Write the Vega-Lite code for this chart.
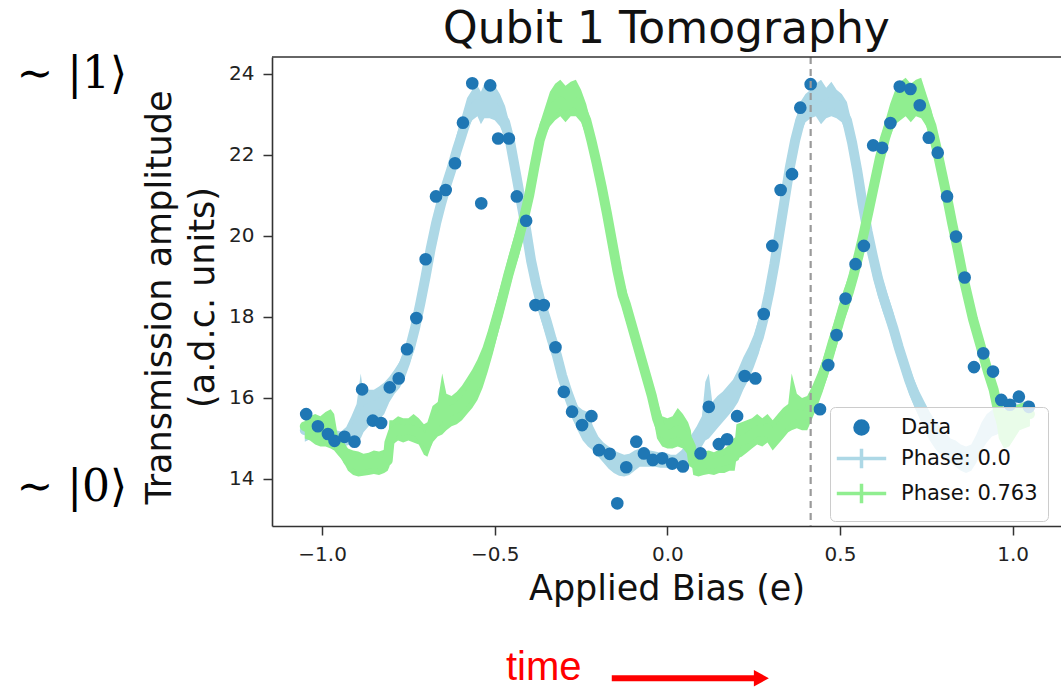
{
  "$schema": "https://vega.github.io/schema/vega-lite/v6.json",
  "autosize": "none",
  "width": 789,
  "height": 469,
  "padding": {"left": 272, "top": 57, "right": 0, "bottom": 164},
  "background": "white",
  "title": {"text": "Qubit 1 Tomography", "fontSize": 44, "font": "DejaVu Sans", "fontWeight": "normal", "color": "#111111", "anchor": "middle", "frame": "group", "baseline": "alphabetic", "offset": 12, "dy": 46},
  "config": {"view": {"stroke": null}, "font": "DejaVu Sans"},
  "datasets": {
    "blue": [
      {"x": -1.05, "lo": 14.92, "mid": 15.2, "hi": 15.52},
      {"x": -1.035, "lo": 14.98, "mid": 15.2, "hi": 15.45},
      {"x": -1.02, "lo": 14.95, "mid": 15.15, "hi": 15.4},
      {"x": -1.005, "lo": 14.93, "mid": 15.1, "hi": 15.33},
      {"x": -0.99, "lo": 14.9, "mid": 15.08, "hi": 15.3},
      {"x": -0.975, "lo": 14.86, "mid": 15.02, "hi": 15.22},
      {"x": -0.96, "lo": 14.85, "mid": 15.0, "hi": 15.2},
      {"x": -0.945, "lo": 14.8, "mid": 14.98, "hi": 15.17},
      {"x": -0.93, "lo": 14.82, "mid": 15.0, "hi": 15.28},
      {"x": -0.915, "lo": 14.86, "mid": 15.1, "hi": 15.55},
      {"x": -0.9, "lo": 14.95, "mid": 15.3, "hi": 15.85},
      {"x": -0.888, "lo": 15.0, "mid": 15.5, "hi": 16.6},
      {"x": -0.88, "lo": 15.15, "mid": 15.6, "hi": 16.1},
      {"x": -0.865, "lo": 15.3, "mid": 15.75, "hi": 16.2},
      {"x": -0.85, "lo": 15.4, "mid": 15.8, "hi": 16.2},
      {"x": -0.835, "lo": 15.45, "mid": 15.85, "hi": 16.28},
      {"x": -0.82, "lo": 15.6, "mid": 15.95, "hi": 16.38},
      {"x": -0.805, "lo": 15.9, "mid": 16.2, "hi": 16.52},
      {"x": -0.79, "lo": 16.1, "mid": 16.4, "hi": 16.7},
      {"x": -0.775, "lo": 16.25, "mid": 16.6, "hi": 16.9},
      {"x": -0.76, "lo": 16.5, "mid": 16.9, "hi": 17.2},
      {"x": -0.745, "lo": 16.85, "mid": 17.25, "hi": 17.6},
      {"x": -0.73, "lo": 17.3, "mid": 17.75, "hi": 18.2},
      {"x": -0.715, "lo": 17.9, "mid": 18.35, "hi": 18.8},
      {"x": -0.7, "lo": 18.6, "mid": 19.0, "hi": 19.5},
      {"x": -0.685, "lo": 19.3, "mid": 19.7, "hi": 20.1},
      {"x": -0.67, "lo": 19.9, "mid": 20.3, "hi": 20.7},
      {"x": -0.655, "lo": 20.4, "mid": 20.8, "hi": 21.2},
      {"x": -0.64, "lo": 20.9, "mid": 21.25, "hi": 21.6},
      {"x": -0.625, "lo": 21.3, "mid": 21.65, "hi": 22.0},
      {"x": -0.61, "lo": 21.75, "mid": 22.1, "hi": 22.5},
      {"x": -0.595, "lo": 22.2, "mid": 22.5, "hi": 22.95},
      {"x": -0.58, "lo": 22.6, "mid": 22.9, "hi": 23.4},
      {"x": -0.565, "lo": 22.85, "mid": 23.1, "hi": 23.6},
      {"x": -0.55, "lo": 22.95, "mid": 23.25, "hi": 23.7},
      {"x": -0.54, "lo": 22.75, "mid": 23.1, "hi": 23.55},
      {"x": -0.53, "lo": 22.9, "mid": 23.2, "hi": 23.75},
      {"x": -0.515, "lo": 22.9, "mid": 23.2, "hi": 23.6},
      {"x": -0.5, "lo": 22.85, "mid": 23.15, "hi": 23.7},
      {"x": -0.485, "lo": 22.7, "mid": 23.0, "hi": 23.5},
      {"x": -0.47, "lo": 22.4, "mid": 22.8, "hi": 23.2},
      {"x": -0.455, "lo": 21.9, "mid": 22.3, "hi": 22.7},
      {"x": -0.44, "lo": 21.2, "mid": 21.6, "hi": 22.0},
      {"x": -0.425, "lo": 20.5, "mid": 20.9, "hi": 21.3},
      {"x": -0.41, "lo": 19.8, "mid": 20.2, "hi": 20.6},
      {"x": -0.395, "lo": 19.0, "mid": 19.4, "hi": 19.8},
      {"x": -0.38, "lo": 18.4, "mid": 18.8, "hi": 19.2},
      {"x": -0.365, "lo": 17.9, "mid": 18.3, "hi": 18.7},
      {"x": -0.35, "lo": 17.5, "mid": 17.9, "hi": 18.3},
      {"x": -0.335, "lo": 17.1, "mid": 17.45, "hi": 17.8},
      {"x": -0.32, "lo": 16.7, "mid": 17.05, "hi": 17.4},
      {"x": -0.305, "lo": 16.25, "mid": 16.55, "hi": 16.9},
      {"x": -0.29, "lo": 15.85, "mid": 16.15, "hi": 16.45},
      {"x": -0.275, "lo": 15.5, "mid": 15.8, "hi": 16.1},
      {"x": -0.26, "lo": 15.2, "mid": 15.5, "hi": 15.8},
      {"x": -0.245, "lo": 14.95, "mid": 15.25, "hi": 15.7},
      {"x": -0.23, "lo": 14.8, "mid": 15.1, "hi": 15.65},
      {"x": -0.215, "lo": 14.7, "mid": 14.95, "hi": 15.3},
      {"x": -0.2, "lo": 14.55, "mid": 14.8, "hi": 15.05},
      {"x": -0.185, "lo": 14.4, "mid": 14.65, "hi": 14.9},
      {"x": -0.17, "lo": 14.25, "mid": 14.5, "hi": 14.8},
      {"x": -0.155, "lo": 14.15, "mid": 14.4, "hi": 14.7},
      {"x": -0.14, "lo": 14.08, "mid": 14.35, "hi": 14.65},
      {"x": -0.125, "lo": 14.06, "mid": 14.3, "hi": 14.6},
      {"x": -0.11, "lo": 14.1, "mid": 14.35, "hi": 14.62},
      {"x": -0.095, "lo": 14.2, "mid": 14.42, "hi": 14.7},
      {"x": -0.08, "lo": 14.3, "mid": 14.5, "hi": 14.75},
      {"x": -0.065, "lo": 14.3, "mid": 14.5, "hi": 14.75},
      {"x": -0.05, "lo": 14.3, "mid": 14.5, "hi": 14.7},
      {"x": -0.035, "lo": 14.3, "mid": 14.48, "hi": 14.68},
      {"x": -0.02, "lo": 14.28, "mid": 14.47, "hi": 14.65},
      {"x": -0.005, "lo": 14.28, "mid": 14.45, "hi": 14.65},
      {"x": 0.01, "lo": 14.25, "mid": 14.42, "hi": 14.6},
      {"x": 0.025, "lo": 14.25, "mid": 14.42, "hi": 14.6},
      {"x": 0.04, "lo": 14.3, "mid": 14.5, "hi": 14.7},
      {"x": 0.055, "lo": 14.4, "mid": 14.62, "hi": 14.85},
      {"x": 0.07, "lo": 14.5, "mid": 14.8, "hi": 15.1},
      {"x": 0.085, "lo": 14.6, "mid": 14.95, "hi": 15.3},
      {"x": 0.1, "lo": 14.8, "mid": 15.15, "hi": 15.55},
      {"x": 0.11, "lo": 14.95, "mid": 15.3, "hi": 16.4},
      {"x": 0.12, "lo": 15.0, "mid": 15.4, "hi": 16.6},
      {"x": 0.13, "lo": 15.1, "mid": 15.5, "hi": 15.9},
      {"x": 0.145, "lo": 15.25, "mid": 15.65, "hi": 16.05},
      {"x": 0.16, "lo": 15.4, "mid": 15.8, "hi": 16.15},
      {"x": 0.175, "lo": 15.55, "mid": 15.9, "hi": 16.3},
      {"x": 0.19, "lo": 15.7, "mid": 16.05, "hi": 16.45},
      {"x": 0.205, "lo": 15.9, "mid": 16.3, "hi": 16.7},
      {"x": 0.22, "lo": 16.2, "mid": 16.6, "hi": 17.0},
      {"x": 0.235, "lo": 16.45, "mid": 16.85, "hi": 17.25},
      {"x": 0.25, "lo": 16.75, "mid": 17.15, "hi": 17.55},
      {"x": 0.265, "lo": 17.1, "mid": 17.5, "hi": 17.95},
      {"x": 0.28, "lo": 17.6, "mid": 18.0, "hi": 18.45},
      {"x": 0.295, "lo": 18.2, "mid": 18.6, "hi": 19.05},
      {"x": 0.31, "lo": 18.9, "mid": 19.3, "hi": 19.75},
      {"x": 0.325, "lo": 19.7, "mid": 20.1, "hi": 20.55},
      {"x": 0.34, "lo": 20.5, "mid": 20.9, "hi": 21.35},
      {"x": 0.355, "lo": 21.3, "mid": 21.7, "hi": 22.1},
      {"x": 0.37, "lo": 22.0, "mid": 22.35, "hi": 22.8},
      {"x": 0.385, "lo": 22.5, "mid": 22.85, "hi": 23.3},
      {"x": 0.4, "lo": 22.8, "mid": 23.1, "hi": 23.5},
      {"x": 0.415, "lo": 22.9, "mid": 23.2, "hi": 23.6},
      {"x": 0.43, "lo": 22.95, "mid": 23.25, "hi": 23.75},
      {"x": 0.445, "lo": 22.75, "mid": 23.15, "hi": 23.85},
      {"x": 0.46, "lo": 22.9, "mid": 23.25, "hi": 23.65},
      {"x": 0.475, "lo": 22.95, "mid": 23.3, "hi": 23.8},
      {"x": 0.49, "lo": 22.9, "mid": 23.25, "hi": 23.6},
      {"x": 0.505, "lo": 22.8, "mid": 23.1, "hi": 23.5},
      {"x": 0.52, "lo": 22.5, "mid": 22.85, "hi": 23.3},
      {"x": 0.535, "lo": 21.9, "mid": 22.3, "hi": 22.75},
      {"x": 0.55, "lo": 21.1, "mid": 21.6, "hi": 22.1},
      {"x": 0.565, "lo": 20.3, "mid": 20.8, "hi": 21.3},
      {"x": 0.58, "lo": 19.6, "mid": 20.1, "hi": 20.6},
      {"x": 0.595, "lo": 19.0, "mid": 19.5, "hi": 20.0},
      {"x": 0.61, "lo": 18.5, "mid": 18.95, "hi": 19.4},
      {"x": 0.625, "lo": 18.1, "mid": 18.5, "hi": 18.9},
      {"x": 0.64, "lo": 17.75, "mid": 18.1, "hi": 18.5},
      {"x": 0.655, "lo": 17.3, "mid": 17.7, "hi": 18.1},
      {"x": 0.67, "lo": 16.9, "mid": 17.25, "hi": 17.6},
      {"x": 0.685, "lo": 16.5, "mid": 16.85, "hi": 17.2},
      {"x": 0.7, "lo": 16.1, "mid": 16.45, "hi": 16.8},
      {"x": 0.715, "lo": 15.8, "mid": 16.1, "hi": 16.45},
      {"x": 0.73, "lo": 15.5, "mid": 15.8, "hi": 16.15},
      {"x": 0.745, "lo": 15.2, "mid": 15.55, "hi": 15.9},
      {"x": 0.76, "lo": 14.95, "mid": 15.3, "hi": 15.65},
      {"x": 0.775, "lo": 14.75, "mid": 15.1, "hi": 15.45},
      {"x": 0.79, "lo": 14.6, "mid": 14.95, "hi": 15.3},
      {"x": 0.805, "lo": 14.5, "mid": 14.8, "hi": 15.15},
      {"x": 0.82, "lo": 14.4, "mid": 14.7, "hi": 15.0},
      {"x": 0.835, "lo": 14.3, "mid": 14.6, "hi": 14.95},
      {"x": 0.85, "lo": 14.2, "mid": 14.5, "hi": 14.85},
      {"x": 0.865, "lo": 14.15, "mid": 14.45, "hi": 14.8},
      {"x": 0.88, "lo": 14.2, "mid": 14.5, "hi": 14.85},
      {"x": 0.895, "lo": 14.4, "mid": 14.75, "hi": 15.1},
      {"x": 0.91, "lo": 14.7, "mid": 15.05, "hi": 15.4},
      {"x": 0.925, "lo": 14.9, "mid": 15.25, "hi": 15.6},
      {"x": 0.94, "lo": 15.05, "mid": 15.4, "hi": 15.7},
      {"x": 0.955, "lo": 15.1, "mid": 15.45, "hi": 15.75},
      {"x": 0.97, "lo": 15.2, "mid": 15.5, "hi": 15.8},
      {"x": 0.985, "lo": 15.15, "mid": 15.5, "hi": 15.85},
      {"x": 1.0, "lo": 15.2, "mid": 15.55, "hi": 15.9},
      {"x": 1.015, "lo": 15.25, "mid": 15.55, "hi": 15.85},
      {"x": 1.03, "lo": 15.3, "mid": 15.6, "hi": 15.9},
      {"x": 1.045, "lo": 15.35, "mid": 15.65, "hi": 15.95}
    ],
    "green": [
      {"x": -1.05, "lo": 15.0, "mid": 15.3, "hi": 15.6},
      {"x": -1.035, "lo": 14.95, "mid": 15.25, "hi": 15.55},
      {"x": -1.02, "lo": 14.85, "mid": 15.2, "hi": 15.6},
      {"x": -1.005, "lo": 14.8, "mid": 15.15, "hi": 15.55},
      {"x": -0.99, "lo": 14.8, "mid": 15.15, "hi": 15.65},
      {"x": -0.975, "lo": 14.75, "mid": 15.1, "hi": 15.72},
      {"x": -0.965, "lo": 14.7, "mid": 15.0, "hi": 15.6},
      {"x": -0.955, "lo": 14.6, "mid": 14.85, "hi": 15.1},
      {"x": -0.94, "lo": 14.45, "mid": 14.7, "hi": 14.95},
      {"x": -0.925, "lo": 14.2, "mid": 14.45, "hi": 14.75},
      {"x": -0.91, "lo": 14.1, "mid": 14.38, "hi": 14.7},
      {"x": -0.895, "lo": 14.06, "mid": 14.35, "hi": 14.68},
      {"x": -0.88, "lo": 14.08, "mid": 14.35, "hi": 14.62},
      {"x": -0.865, "lo": 14.1, "mid": 14.38, "hi": 14.65},
      {"x": -0.85, "lo": 14.12, "mid": 14.4, "hi": 14.7},
      {"x": -0.835, "lo": 14.1, "mid": 14.38, "hi": 14.68},
      {"x": -0.82, "lo": 14.15, "mid": 14.4, "hi": 14.72},
      {"x": -0.81, "lo": 14.2, "mid": 14.45, "hi": 14.75},
      {"x": -0.805, "lo": 14.3, "mid": 14.9, "hi": 15.45},
      {"x": -0.795, "lo": 14.85, "mid": 15.15, "hi": 15.45},
      {"x": -0.78, "lo": 14.95, "mid": 15.25, "hi": 15.55},
      {"x": -0.765, "lo": 14.9, "mid": 15.2, "hi": 15.5},
      {"x": -0.75, "lo": 14.95, "mid": 15.22, "hi": 15.5},
      {"x": -0.735, "lo": 14.9, "mid": 15.2, "hi": 15.6},
      {"x": -0.72, "lo": 14.85, "mid": 15.15, "hi": 15.5},
      {"x": -0.705, "lo": 14.6, "mid": 14.95, "hi": 15.35},
      {"x": -0.695, "lo": 14.55, "mid": 14.9, "hi": 15.4},
      {"x": -0.68, "lo": 14.9, "mid": 15.3, "hi": 15.8},
      {"x": -0.665, "lo": 15.05, "mid": 15.45, "hi": 15.9},
      {"x": -0.652, "lo": 15.1, "mid": 15.6, "hi": 16.6},
      {"x": -0.64, "lo": 15.2, "mid": 15.6, "hi": 16.1},
      {"x": -0.625, "lo": 15.3, "mid": 15.7, "hi": 16.05},
      {"x": -0.61, "lo": 15.35, "mid": 15.75, "hi": 16.15},
      {"x": -0.595, "lo": 15.45, "mid": 15.85, "hi": 16.3},
      {"x": -0.58, "lo": 15.6, "mid": 16.0, "hi": 16.5},
      {"x": -0.565, "lo": 15.75, "mid": 16.2, "hi": 16.7},
      {"x": -0.55, "lo": 15.95, "mid": 16.45, "hi": 16.95},
      {"x": -0.535, "lo": 16.25, "mid": 16.75, "hi": 17.25},
      {"x": -0.52, "lo": 16.65, "mid": 17.15, "hi": 17.65},
      {"x": -0.505, "lo": 17.1, "mid": 17.6, "hi": 18.1},
      {"x": -0.49, "lo": 17.6, "mid": 18.05, "hi": 18.55},
      {"x": -0.475, "lo": 18.1, "mid": 18.55, "hi": 19.0},
      {"x": -0.46, "lo": 18.6, "mid": 19.05, "hi": 19.5},
      {"x": -0.445, "lo": 19.1, "mid": 19.5, "hi": 19.95},
      {"x": -0.43, "lo": 19.5, "mid": 19.95, "hi": 20.4},
      {"x": -0.415, "lo": 20.0, "mid": 20.45, "hi": 20.9},
      {"x": -0.4, "lo": 20.6, "mid": 21.0, "hi": 21.45},
      {"x": -0.385, "lo": 21.3, "mid": 21.7, "hi": 22.1},
      {"x": -0.37, "lo": 22.0, "mid": 22.35, "hi": 22.75},
      {"x": -0.355, "lo": 22.45, "mid": 22.75, "hi": 23.15},
      {"x": -0.34, "lo": 22.7, "mid": 23.0, "hi": 23.55},
      {"x": -0.325, "lo": 22.85, "mid": 23.2, "hi": 23.75},
      {"x": -0.31, "lo": 22.95, "mid": 23.3, "hi": 23.85},
      {"x": -0.295, "lo": 22.8, "mid": 23.2, "hi": 23.7},
      {"x": -0.28, "lo": 22.95, "mid": 23.3, "hi": 23.8},
      {"x": -0.265, "lo": 22.95, "mid": 23.3, "hi": 23.85},
      {"x": -0.25, "lo": 22.8, "mid": 23.15, "hi": 23.6},
      {"x": -0.235, "lo": 22.45, "mid": 22.85, "hi": 23.25},
      {"x": -0.22, "lo": 21.95, "mid": 22.35, "hi": 22.75},
      {"x": -0.205, "lo": 21.4, "mid": 21.8, "hi": 22.2},
      {"x": -0.19, "lo": 20.8, "mid": 21.2, "hi": 21.6},
      {"x": -0.175, "lo": 20.15, "mid": 20.55, "hi": 20.95},
      {"x": -0.16, "lo": 19.45, "mid": 19.85, "hi": 20.25},
      {"x": -0.145, "lo": 18.8, "mid": 19.15, "hi": 19.55},
      {"x": -0.13, "lo": 18.2, "mid": 18.55, "hi": 18.95},
      {"x": -0.12, "lo": 17.9, "mid": 18.3, "hi": 18.7},
      {"x": -0.105, "lo": 17.5, "mid": 17.85, "hi": 18.2},
      {"x": -0.09, "lo": 17.05, "mid": 17.4, "hi": 17.75},
      {"x": -0.075, "lo": 16.6, "mid": 16.95, "hi": 17.3},
      {"x": -0.06, "lo": 16.15, "mid": 16.5, "hi": 16.85},
      {"x": -0.045, "lo": 15.7, "mid": 16.05, "hi": 16.45},
      {"x": -0.03, "lo": 15.0, "mid": 15.5, "hi": 15.95},
      {"x": -0.015, "lo": 14.8, "mid": 15.15, "hi": 15.55},
      {"x": 0.0, "lo": 14.75, "mid": 15.1, "hi": 15.5},
      {"x": 0.015, "lo": 14.75, "mid": 15.12, "hi": 15.55},
      {"x": 0.03, "lo": 14.8, "mid": 15.2, "hi": 15.75},
      {"x": 0.045, "lo": 14.75, "mid": 15.1, "hi": 15.6},
      {"x": 0.06, "lo": 14.6, "mid": 14.95, "hi": 15.4},
      {"x": 0.068, "lo": 14.5, "mid": 14.8, "hi": 15.2},
      {"x": 0.075, "lo": 14.1, "mid": 14.4, "hi": 14.7},
      {"x": 0.09, "lo": 14.06, "mid": 14.35, "hi": 14.65},
      {"x": 0.105, "lo": 14.1, "mid": 14.38, "hi": 14.68},
      {"x": 0.12, "lo": 14.12, "mid": 14.4, "hi": 14.7},
      {"x": 0.135, "lo": 14.1, "mid": 14.38, "hi": 14.66},
      {"x": 0.15, "lo": 14.15, "mid": 14.42, "hi": 14.72},
      {"x": 0.165, "lo": 14.15, "mid": 14.45, "hi": 14.75},
      {"x": 0.18, "lo": 14.2, "mid": 14.5, "hi": 14.85},
      {"x": 0.195, "lo": 14.2, "mid": 14.55, "hi": 14.9},
      {"x": 0.2, "lo": 14.5, "mid": 14.9, "hi": 15.35},
      {"x": 0.215, "lo": 14.55, "mid": 14.95, "hi": 15.4},
      {"x": 0.23, "lo": 14.65, "mid": 15.0, "hi": 15.45},
      {"x": 0.245, "lo": 14.75, "mid": 15.1, "hi": 15.5},
      {"x": 0.26, "lo": 14.85, "mid": 15.2, "hi": 15.6},
      {"x": 0.275, "lo": 14.8, "mid": 15.15, "hi": 15.5},
      {"x": 0.29, "lo": 14.9, "mid": 15.25, "hi": 15.6},
      {"x": 0.305, "lo": 14.7, "mid": 15.05, "hi": 15.45},
      {"x": 0.32, "lo": 14.85, "mid": 15.2, "hi": 15.6},
      {"x": 0.335, "lo": 15.0, "mid": 15.35, "hi": 15.75},
      {"x": 0.35, "lo": 15.15, "mid": 15.5, "hi": 15.85},
      {"x": 0.36, "lo": 15.2, "mid": 15.6, "hi": 16.6},
      {"x": 0.375, "lo": 15.25, "mid": 15.6, "hi": 16.1},
      {"x": 0.39, "lo": 15.2, "mid": 15.55, "hi": 16.0},
      {"x": 0.405, "lo": 15.2, "mid": 15.6, "hi": 16.05},
      {"x": 0.42, "lo": 15.5, "mid": 15.9, "hi": 16.3},
      {"x": 0.435, "lo": 15.8, "mid": 16.2, "hi": 16.6},
      {"x": 0.45, "lo": 16.15, "mid": 16.55, "hi": 16.95},
      {"x": 0.465, "lo": 16.55, "mid": 16.95, "hi": 17.35},
      {"x": 0.48, "lo": 17.0, "mid": 17.4, "hi": 17.8},
      {"x": 0.495, "lo": 17.4, "mid": 17.8, "hi": 18.2},
      {"x": 0.51, "lo": 17.85, "mid": 18.25, "hi": 18.65},
      {"x": 0.525, "lo": 18.2, "mid": 18.6, "hi": 19.0},
      {"x": 0.54, "lo": 18.65, "mid": 19.05, "hi": 19.45},
      {"x": 0.555, "lo": 19.15, "mid": 19.55, "hi": 19.95},
      {"x": 0.57, "lo": 19.7, "mid": 20.1, "hi": 20.5},
      {"x": 0.585, "lo": 20.3, "mid": 20.7, "hi": 21.1},
      {"x": 0.6, "lo": 20.9, "mid": 21.3, "hi": 21.7},
      {"x": 0.615, "lo": 21.5, "mid": 21.9, "hi": 22.3},
      {"x": 0.63, "lo": 22.0, "mid": 22.4, "hi": 22.8},
      {"x": 0.645, "lo": 22.45, "mid": 22.8, "hi": 23.25},
      {"x": 0.66, "lo": 22.75, "mid": 23.05, "hi": 23.6},
      {"x": 0.675, "lo": 22.85, "mid": 23.2, "hi": 23.8},
      {"x": 0.69, "lo": 22.95, "mid": 23.3, "hi": 23.9},
      {"x": 0.705, "lo": 22.8, "mid": 23.2, "hi": 23.75},
      {"x": 0.72, "lo": 22.95, "mid": 23.3, "hi": 23.85},
      {"x": 0.735, "lo": 22.9, "mid": 23.25, "hi": 23.9},
      {"x": 0.75, "lo": 22.7, "mid": 23.05, "hi": 23.5},
      {"x": 0.765, "lo": 22.3, "mid": 22.7, "hi": 23.1},
      {"x": 0.78, "lo": 21.75, "mid": 22.15, "hi": 22.55},
      {"x": 0.795, "lo": 21.15, "mid": 21.55, "hi": 21.95},
      {"x": 0.81, "lo": 20.55, "mid": 20.95, "hi": 21.35},
      {"x": 0.825, "lo": 19.9, "mid": 20.3, "hi": 20.7},
      {"x": 0.84, "lo": 19.3, "mid": 19.7, "hi": 20.1},
      {"x": 0.855, "lo": 18.7, "mid": 19.05, "hi": 19.45},
      {"x": 0.87, "lo": 18.2, "mid": 18.5, "hi": 18.8},
      {"x": 0.885, "lo": 17.6, "mid": 17.95, "hi": 18.3},
      {"x": 0.9, "lo": 17.15, "mid": 17.5, "hi": 17.85},
      {"x": 0.915, "lo": 16.7, "mid": 17.05, "hi": 17.4},
      {"x": 0.93, "lo": 16.25, "mid": 16.6, "hi": 16.95},
      {"x": 0.945, "lo": 15.85, "mid": 16.2, "hi": 16.55},
      {"x": 0.96, "lo": 15.0, "mid": 15.6, "hi": 16.1},
      {"x": 0.975, "lo": 14.75, "mid": 15.2, "hi": 15.7},
      {"x": 0.99, "lo": 14.8, "mid": 15.25, "hi": 15.7},
      {"x": 1.005, "lo": 15.0, "mid": 15.4, "hi": 15.8},
      {"x": 1.02, "lo": 15.2, "mid": 15.55, "hi": 15.85},
      {"x": 1.035, "lo": 15.25, "mid": 15.6, "hi": 15.9},
      {"x": 1.05, "lo": 15.3, "mid": 15.6, "hi": 15.9}
    ],
    "points": [
      {"x": -1.046, "y": 15.6}, {"x": -1.012, "y": 15.3}, {"x": -0.983, "y": 15.11}, {"x": -0.964, "y": 14.94},
      {"x": -0.935, "y": 15.04}, {"x": -0.906, "y": 14.92}, {"x": -0.884, "y": 16.21}, {"x": -0.853, "y": 15.44},
      {"x": -0.829, "y": 15.38}, {"x": -0.804, "y": 16.26}, {"x": -0.778, "y": 16.48}, {"x": -0.754, "y": 17.2},
      {"x": -0.727, "y": 17.97}, {"x": -0.7, "y": 19.42}, {"x": -0.67, "y": 20.97}, {"x": -0.642, "y": 21.13},
      {"x": -0.615, "y": 21.79}, {"x": -0.592, "y": 22.79}, {"x": -0.565, "y": 23.76}, {"x": -0.539, "y": 20.8},
      {"x": -0.513, "y": 23.71}, {"x": -0.49, "y": 22.4}, {"x": -0.459, "y": 22.4}, {"x": -0.436, "y": 20.97},
      {"x": -0.409, "y": 20.37}, {"x": -0.382, "y": 18.29}, {"x": -0.358, "y": 18.29}, {"x": -0.324, "y": 17.25},
      {"x": -0.3, "y": 16.15}, {"x": -0.276, "y": 15.66}, {"x": -0.247, "y": 15.33}, {"x": -0.22, "y": 15.55},
      {"x": -0.198, "y": 14.71}, {"x": -0.167, "y": 14.62}, {"x": -0.145, "y": 13.4}, {"x": -0.119, "y": 14.29},
      {"x": -0.09, "y": 14.92}, {"x": -0.068, "y": 14.63}, {"x": -0.042, "y": 14.47}, {"x": -0.015, "y": 14.51},
      {"x": 0.014, "y": 14.38}, {"x": 0.045, "y": 14.31}, {"x": 0.096, "y": 14.63}, {"x": 0.12, "y": 15.78},
      {"x": 0.149, "y": 14.86}, {"x": 0.173, "y": 14.98}, {"x": 0.202, "y": 15.55}, {"x": 0.224, "y": 16.54},
      {"x": 0.255, "y": 16.48}, {"x": 0.279, "y": 18.07}, {"x": 0.304, "y": 19.75}, {"x": 0.328, "y": 21.13},
      {"x": 0.361, "y": 21.52}, {"x": 0.385, "y": 23.16}, {"x": 0.415, "y": 23.74}, {"x": 0.442, "y": 15.72},
      {"x": 0.466, "y": 16.81}, {"x": 0.49, "y": 17.55}, {"x": 0.516, "y": 18.45}, {"x": 0.545, "y": 19.3},
      {"x": 0.569, "y": 19.75}, {"x": 0.596, "y": 22.23}, {"x": 0.622, "y": 22.17}, {"x": 0.646, "y": 22.78},
      {"x": 0.673, "y": 23.68}, {"x": 0.704, "y": 23.62}, {"x": 0.731, "y": 23.22}, {"x": 0.757, "y": 22.42},
      {"x": 0.783, "y": 22.05}, {"x": 0.81, "y": 20.97}, {"x": 0.836, "y": 19.98}, {"x": 0.861, "y": 18.97},
      {"x": 0.888, "y": 16.76}, {"x": 0.915, "y": 17.1}, {"x": 0.943, "y": 16.65}, {"x": 0.967, "y": 15.95},
      {"x": 0.992, "y": 15.83}, {"x": 1.018, "y": 16.03}, {"x": 1.047, "y": 15.78}
    ]
  },
  "layer": [
    {
      "data": {"name": "blue"},
      "mark": {"type": "area", "color": "#add8e6", "opacity": 1},
      "encoding": {
        "x": {"field": "x", "type": "quantitative", "scale": {"domain": [-1.145, 1.14], "nice": false, "zero": false}},
        "y": {"field": "lo", "type": "quantitative", "scale": {"domain": [12.84, 24.41], "nice": false, "zero": false}},
        "y2": {"field": "hi"}
      }
    },
    {
      "data": {"name": "blue"},
      "mark": {"type": "line", "color": "#add8e6", "strokeWidth": 10, "strokeJoin": "round", "strokeCap": "round"},
      "encoding": {
        "x": {"field": "x", "type": "quantitative", "scale": {"domain": [-1.145, 1.14], "nice": false, "zero": false}},
        "y": {"field": "mid", "type": "quantitative", "scale": {"domain": [12.84, 24.41], "nice": false, "zero": false}}
      }
    },
    {
      "data": {"name": "green"},
      "mark": {"type": "area", "color": "#90ee90", "opacity": 1},
      "encoding": {
        "x": {"field": "x", "type": "quantitative", "scale": {"domain": [-1.145, 1.14], "nice": false, "zero": false}},
        "y": {"field": "lo", "type": "quantitative", "scale": {"domain": [12.84, 24.41], "nice": false, "zero": false}},
        "y2": {"field": "hi"}
      }
    },
    {
      "data": {"name": "green"},
      "mark": {"type": "line", "color": "#90ee90", "strokeWidth": 10, "strokeJoin": "round", "strokeCap": "round"},
      "encoding": {
        "x": {"field": "x", "type": "quantitative", "scale": {"domain": [-1.145, 1.14], "nice": false, "zero": false}},
        "y": {"field": "mid", "type": "quantitative", "scale": {"domain": [12.84, 24.41], "nice": false, "zero": false}}
      }
    },
    {
      "data": {"name": "points"},
      "transform": [{"calculate": "'Data'", "as": "series"}],
      "mark": {"type": "point", "filled": true, "size": 160, "opacity": 1},
      "encoding": {
        "x": {"field": "x", "type": "quantitative", "scale": {"domain": [-1.145, 1.14], "nice": false, "zero": false},
          "axis": {"values": [-1, -0.5, 0, 0.5, 1], "format": ".1f", "title": "Applied Bias (e)", "grid": false,
            "labelFontSize": 20, "labelFont": "DejaVu Sans", "labelColor": "#222222", "labelPadding": 9, "labelFlush": false, "labelOverlap": false,
            "tickSize": 9, "tickWidth": 1.5, "tickColor": "#333333", "domainColor": "#333333", "domainWidth": 1.6,
            "titleFont": "DejaVu Sans", "titleFontSize": 35, "titleFontWeight": "normal", "titleColor": "#111111",
            "titleBaseline": "alphabetic", "titleY": 73}},
        "y": {"field": "y", "type": "quantitative", "scale": {"domain": [12.84, 24.41], "nice": false, "zero": false},
          "axis": {"values": [14, 16, 18, 20, 22, 24], "format": "d", "title": ["Transmission amplitude", "(a.d.c. units)"], "grid": false,
            "labelFontSize": 20, "labelFont": "DejaVu Sans", "labelColor": "#222222", "labelPadding": 9, "labelFlush": false, "labelOverlap": false,
            "tickSize": 9, "tickWidth": 1.5, "tickColor": "#333333", "domainColor": "#333333", "domainWidth": 1.6,
            "titleFont": "DejaVu Sans", "titleFontSize": 35, "titleFontWeight": "normal", "titleColor": "#111111",
            "titleLineHeight": 43, "titleBaseline": "middle", "titleAlign": "center", "titleAngle": 270, "titleX": -113, "titleY": 240}},
        "color": {"field": "series", "type": "nominal",
          "scale": {"domain": ["Data", "Phase: 0.0", "Phase: 0.763"], "range": ["#1f77b4", "#add8e6", "#90ee90"]},
          "legend": {"orient": "none", "legendX": 558, "legendY": 350, "title": null,
            "labelFontSize": 21, "labelFont": "DejaVu Sans", "labelColor": "#111111",
            "symbolSize": 169, "symbolStrokeWidth": 3.5, "symbolOffset": 11, "labelOffset": 29, "symbolOpacity": 1,
            "rowPadding": 0, "padding": 10, "fillColor": "rgba(255,255,255,0.8)", "strokeColor": "#cccccc", "cornerRadius": 5,
            "encode": {"symbols": {"update": {"stroke": {"scale": "color", "field": "value"}, "fill": {"scale": "color", "field": "value"}, "strokeWidth": {"value": 3.5}}}}}},
        "shape": {"field": "series", "type": "nominal",
          "scale": {"domain": ["Data", "Phase: 0.0", "Phase: 0.763"], "range": ["circle", "M-3.8,0L3.8,0M0,-1.5L0,1.5", "M-3.8,0L3.8,0M0,-1.5L0,1.5"]},
          "legend": {"orient": "none", "legendX": 558, "legendY": 350, "title": null,
            "labelFontSize": 21, "labelFont": "DejaVu Sans", "labelColor": "#111111",
            "symbolSize": 169, "symbolStrokeWidth": 3.5, "symbolOffset": 11, "labelOffset": 29, "symbolOpacity": 1,
            "rowPadding": 0, "padding": 10, "fillColor": "rgba(255,255,255,0.8)", "strokeColor": "#cccccc", "cornerRadius": 5,
            "encode": {"symbols": {"update": {"stroke": {"scale": "color", "field": "value"}, "fill": {"scale": "color", "field": "value"}, "strokeWidth": {"value": 3.5}}}}}}
      }
    },
    {
      "data": {"values": [{"x": 0.415}]},
      "mark": {"type": "rule", "color": "#9a9a9a", "strokeWidth": 2.2, "strokeDash": [7, 5]},
      "encoding": {
        "x": {"field": "x", "type": "quantitative", "scale": {"domain": [-1.145, 1.14], "nice": false, "zero": false}}
      }
    },
    {
      "data": {"values": [{}]},
      "mark": {"type": "rule", "color": "#333333", "strokeWidth": 1.6},
      "encoding": {
        "y": {"datum": 24.41, "type": "quantitative", "scale": {"domain": [12.84, 24.41], "nice": false, "zero": false}}
      }
    },
    {
      "data": {"values": [{"x": -1.7246, "y": 23.97, "label": "∼ |1⟩"}, {"x": -1.7246, "y": 13.78, "label": "∼ |0⟩"}]},
      "mark": {"type": "text", "font": "DejaVu Serif", "fontSize": 44, "color": "#000000", "align": "center", "baseline": "middle"},
      "encoding": {
        "x": {"field": "x", "type": "quantitative", "scale": {"domain": [-1.145, 1.14], "nice": false, "zero": false}},
        "y": {"field": "y", "type": "quantitative", "scale": {"domain": [12.84, 24.41], "nice": false, "zero": false}},
        "text": {"field": "label"}
      }
    },
    {
      "data": {"values": [{"x": -0.358, "y": 9.03, "label": "time"}]},
      "mark": {"type": "text", "font": "Liberation Sans", "fontSize": 40, "color": "#ff0000", "align": "center", "baseline": "alphabetic"},
      "encoding": {
        "x": {"field": "x", "type": "quantitative", "scale": {"domain": [-1.145, 1.14], "nice": false, "zero": false}},
        "y": {"field": "y", "type": "quantitative", "scale": {"domain": [12.84, 24.41], "nice": false, "zero": false}},
        "text": {"field": "label"}
      }
    },
    {
      "data": {"values": [{"x": -0.161, "x2": 0.256, "y": 9.083}]},
      "mark": {"type": "rule", "color": "#ff0000", "strokeWidth": 6},
      "encoding": {
        "x": {"field": "x", "type": "quantitative", "scale": {"domain": [-1.145, 1.14], "nice": false, "zero": false}},
        "x2": {"field": "x2"},
        "y": {"field": "y", "type": "quantitative", "scale": {"domain": [12.84, 24.41], "nice": false, "zero": false}}
      }
    },
    {
      "data": {"values": [{"x": 0.2722, "y": 9.083}]},
      "mark": {"type": "point", "shape": "M-1,-1.1L1,0L-1,1.1Z", "size": 225, "filled": true, "color": "#ff0000", "opacity": 1},
      "encoding": {
        "x": {"field": "x", "type": "quantitative", "scale": {"domain": [-1.145, 1.14], "nice": false, "zero": false}},
        "y": {"field": "y", "type": "quantitative", "scale": {"domain": [12.84, 24.41], "nice": false, "zero": false}}
      }
    }
  ]
}
